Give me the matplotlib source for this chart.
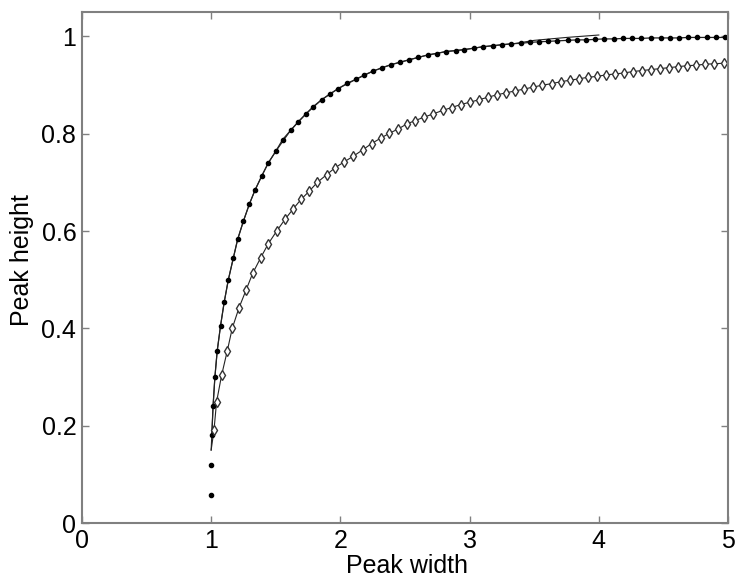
import matplotlib.pyplot as plt

plt.rcParams['font.family'] = ['Liberation Sans', 'DejaVu Sans']

# Filled dots (upper curve)
dots_x = [1.000, 1.000, 1.005, 1.015, 1.029, 1.047, 1.073, 1.101, 1.133, 1.171,
          1.205, 1.249, 1.295, 1.339, 1.391, 1.442, 1.500, 1.553, 1.615, 1.674,
          1.734, 1.790, 1.855, 1.920, 1.984, 2.054, 2.121, 2.185, 2.255, 2.324,
          2.392, 2.461, 2.531, 2.603, 2.676, 2.745, 2.817, 2.892, 2.959, 3.034,
          3.106, 3.184, 3.250, 3.320, 3.400, 3.470, 3.540, 3.610, 3.680, 3.760,
          3.830, 3.900, 3.970, 4.040, 4.120, 4.190, 4.260, 4.330, 4.400, 4.480,
          4.550, 4.620, 4.690, 4.760, 4.840, 4.910, 4.980]
dots_y = [0.057, 0.119, 0.180, 0.241, 0.300, 0.354, 0.406, 0.454, 0.500, 0.544,
          0.583, 0.620, 0.655, 0.684, 0.713, 0.740, 0.764, 0.788, 0.807, 0.825,
          0.841, 0.856, 0.870, 0.882, 0.893, 0.904, 0.912, 0.921, 0.929, 0.936,
          0.942, 0.947, 0.952, 0.957, 0.962, 0.965, 0.969, 0.971, 0.973, 0.976,
          0.979, 0.981, 0.983, 0.985, 0.986, 0.988, 0.989, 0.990, 0.991, 0.992,
          0.993, 0.993, 0.994, 0.995, 0.995, 0.996, 0.996, 0.996, 0.997, 0.997,
          0.997, 0.997, 0.998, 0.998, 0.998, 0.998, 0.998]

# thin fitted line on the upper curve (ends at x=4)
fit_x = [1.000, 1.005, 1.015, 1.029, 1.047, 1.073, 1.101, 1.133, 1.171, 1.205,
         1.249, 1.295, 1.339, 1.391, 1.442, 1.500, 1.615, 1.734, 1.855, 1.984,
         2.121, 2.255, 2.392, 2.531, 2.676, 2.817, 2.959, 3.106, 3.250, 3.340,
         3.500, 3.750, 4.000]
fit_y = [0.150, 0.180, 0.241, 0.300, 0.354, 0.406, 0.454, 0.500, 0.544, 0.583,
         0.620, 0.655, 0.684, 0.713, 0.740, 0.764, 0.807, 0.841, 0.870, 0.893,
         0.912, 0.929, 0.942, 0.952, 0.962, 0.969, 0.973, 0.979, 0.983, 0.985,
         0.992, 0.998, 1.003]

# Open diamonds (lower curve)
diam_x = [1.022, 1.042, 1.081, 1.125, 1.163, 1.215, 1.269, 1.321, 1.383, 1.442,
          1.507, 1.571, 1.636, 1.695, 1.759, 1.821, 1.894, 1.958, 2.028, 2.100,
          2.173, 2.242, 2.312, 2.379, 2.448, 2.513, 2.577, 2.647, 2.719, 2.792,
          2.861, 2.931, 3.003, 3.073, 3.140, 3.210, 3.279, 3.351, 3.423, 3.493,
          3.563, 3.635, 3.705, 3.775, 3.845, 3.915, 3.985, 4.055, 4.125, 4.195,
          4.265, 4.335, 4.405, 4.475, 4.545, 4.615, 4.685, 4.755, 4.825, 4.895,
          4.965]
diam_y = [0.191, 0.249, 0.304, 0.354, 0.400, 0.442, 0.478, 0.513, 0.545, 0.574,
          0.600, 0.624, 0.646, 0.665, 0.682, 0.700, 0.716, 0.730, 0.742, 0.754,
          0.767, 0.780, 0.791, 0.801, 0.810, 0.820, 0.827, 0.834, 0.841, 0.848,
          0.854, 0.860, 0.865, 0.870, 0.875, 0.880, 0.884, 0.888, 0.892, 0.896,
          0.900, 0.903, 0.907, 0.910, 0.913, 0.916, 0.918, 0.921, 0.923, 0.925,
          0.928, 0.930, 0.932, 0.934, 0.936, 0.938, 0.940, 0.941, 0.943, 0.944,
          0.945]

fig = plt.figure(figsize=(7.38, 5.78), dpi=100)
ax = fig.add_axes([0.111, 0.095, 0.8755, 0.884])

# lines first, markers on top
ax.plot(fit_x, fit_y, color='#222222', lw=0.8)
ax.plot(dots_x[2:], dots_y[2:], color='#222222', lw=0.9)
ax.plot([1.000] + diam_x, [0.150] + diam_y, color='#222222', lw=0.8)
ax.plot(dots_x, dots_y, linestyle='none', marker='o', ms=3.0, color='black')
ax.plot(diam_x, diam_y, linestyle='none', marker='d', ms=5.0, mfc='white',
        mec='#333333', mew=1.0)

ax.set_xlim(0, 5)
ax.set_ylim(0, 1.05)
ax.set_xticks([0, 1, 2, 3, 4, 5])
ax.set_yticks([0, 0.2, 0.4, 0.6, 0.8, 1])
ax.set_yticklabels(['0', '0.2', '0.4', '0.6', '0.8', '1'])

ax.tick_params(direction='in', length=5, width=1, color='#808080',
               labelsize=18, top=True, right=True, pad=4)
for s in ax.spines.values():
    s.set_color('#808080')
    s.set_linewidth(1.5)

ax.set_xlabel('Peak width', fontsize=18)
ax.set_ylabel('Peak height', fontsize=18)
ax.xaxis.set_label_coords(0.503, -0.084)
ax.yaxis.set_label_coords(-0.093, 0.515)
ax.xaxis.label.set_va('center')
ax.yaxis.label.set_va('center')

fig.savefig('out.png', dpi=100)
